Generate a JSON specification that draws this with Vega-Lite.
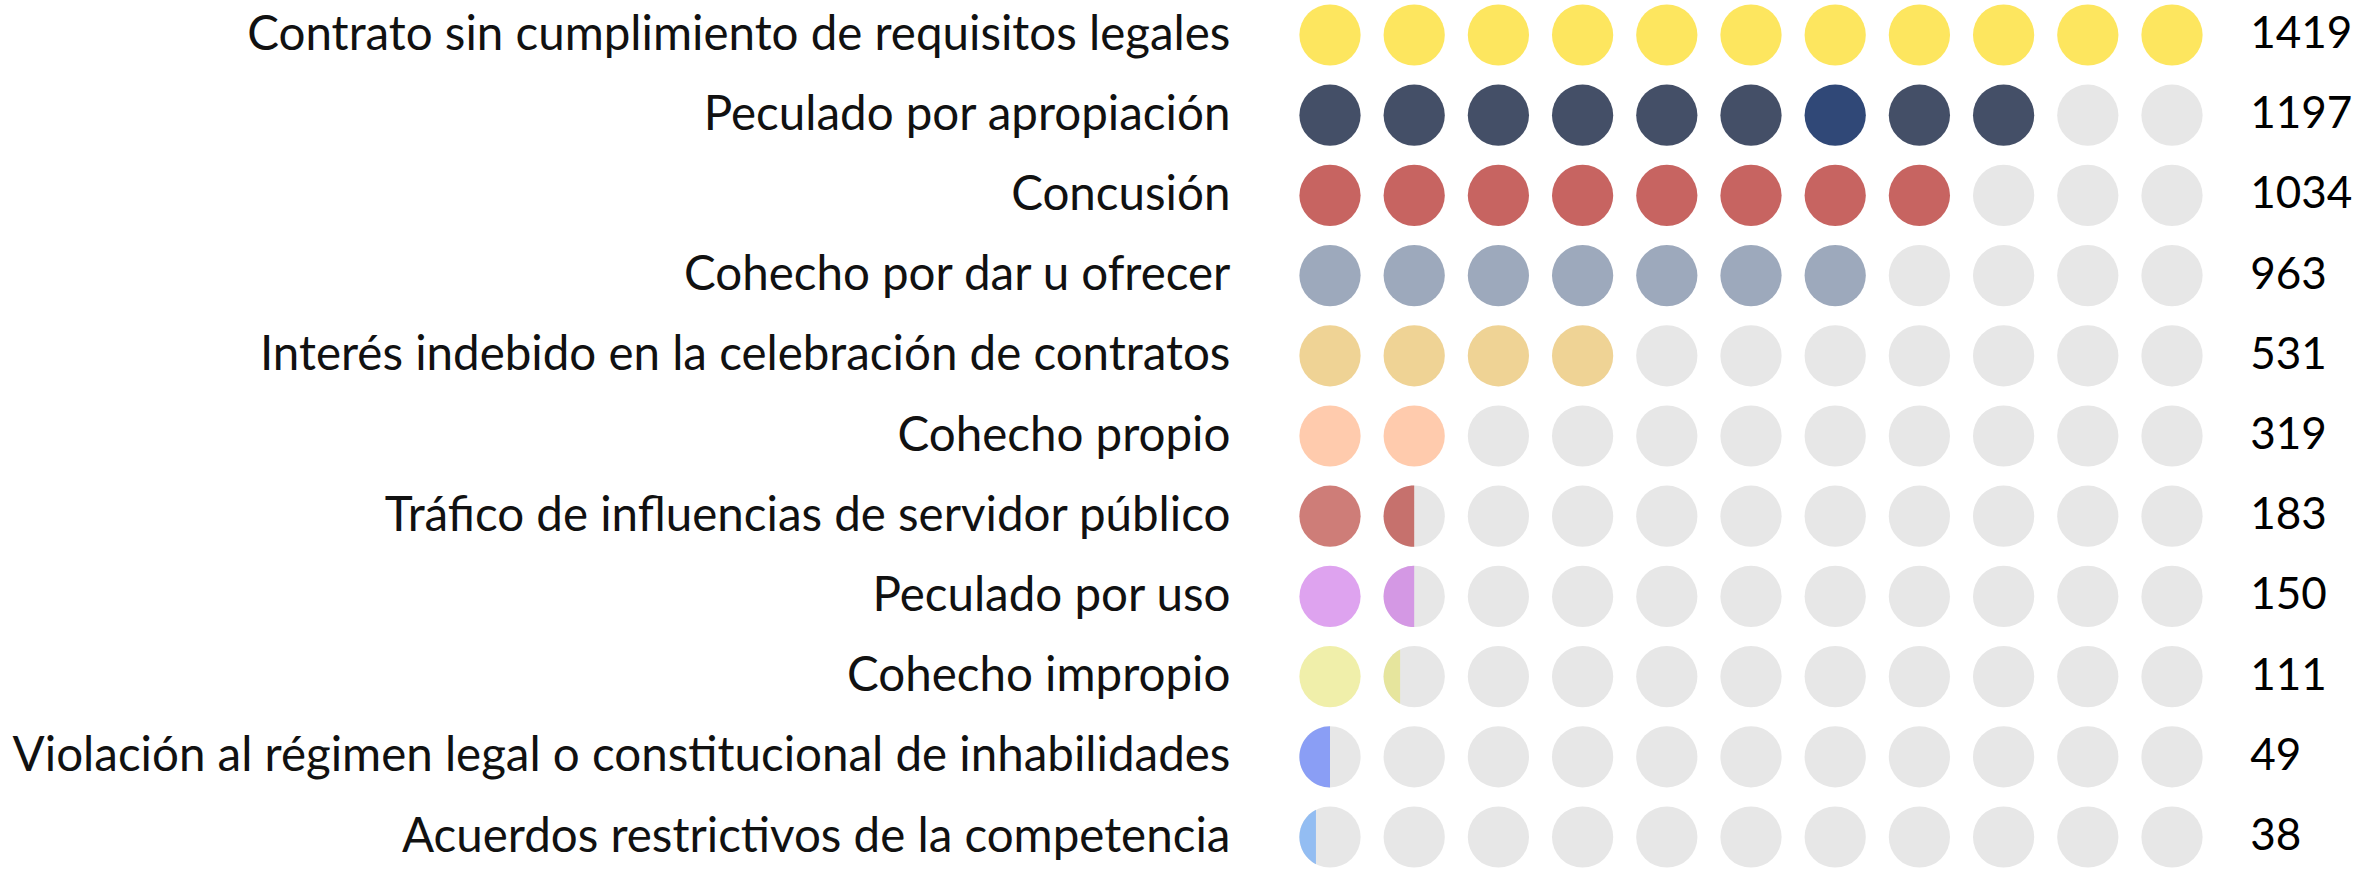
{
  "$schema": "https://vega.github.io/schema/vega-lite/v6.json",
  "autosize": "none",
  "width": 1010.4,
  "height": 802,
  "padding": {"left": 1287.9, "top": 35, "right": 63.7, "bottom": 39},
  "background": "#ffffff",
  "config": {"view": {"stroke": null}},
  "datasets": {
    "rows": [
      {"c": "Contrato sin cumplimiento de requisitos legales", "n": 1419},
      {"c": "Peculado por apropiación", "n": 1197},
      {"c": "Concusión", "n": 1034},
      {"c": "Cohecho por dar u ofrecer", "n": 963},
      {"c": "Interés indebido en la celebración de contratos", "n": 531},
      {"c": "Cohecho propio", "n": 319},
      {"c": "Tráfico de influencias de servidor público", "n": 183},
      {"c": "Peculado por uso", "n": 150},
      {"c": "Cohecho impropio", "n": 111},
      {"c": "Violación al régimen legal o constitucional de inhabilidades", "n": 49},
      {"c": "Acuerdos restrictivos de la competencia", "n": 38}
    ],
    "circles": [
      {"c": "Contrato sin cumplimiento de requisitos legales", "i": 1, "p": "full", "t": "t1"},
      {"c": "Contrato sin cumplimiento de requisitos legales", "i": 2, "p": "full", "t": "t1"},
      {"c": "Contrato sin cumplimiento de requisitos legales", "i": 3, "p": "full", "t": "t1"},
      {"c": "Contrato sin cumplimiento de requisitos legales", "i": 4, "p": "full", "t": "t1"},
      {"c": "Contrato sin cumplimiento de requisitos legales", "i": 5, "p": "full", "t": "t1"},
      {"c": "Contrato sin cumplimiento de requisitos legales", "i": 6, "p": "full", "t": "t1"},
      {"c": "Contrato sin cumplimiento de requisitos legales", "i": 7, "p": "full", "t": "t1"},
      {"c": "Contrato sin cumplimiento de requisitos legales", "i": 8, "p": "full", "t": "t1"},
      {"c": "Contrato sin cumplimiento de requisitos legales", "i": 9, "p": "full", "t": "t1"},
      {"c": "Contrato sin cumplimiento de requisitos legales", "i": 10, "p": "full", "t": "t1"},
      {"c": "Contrato sin cumplimiento de requisitos legales", "i": 11, "p": "full", "t": "t1"},
      {"c": "Peculado por apropiación", "i": 1, "p": "full", "t": "t2"},
      {"c": "Peculado por apropiación", "i": 2, "p": "full", "t": "t2"},
      {"c": "Peculado por apropiación", "i": 3, "p": "full", "t": "t2"},
      {"c": "Peculado por apropiación", "i": 4, "p": "full", "t": "t2"},
      {"c": "Peculado por apropiación", "i": 5, "p": "full", "t": "t2"},
      {"c": "Peculado por apropiación", "i": 6, "p": "full", "t": "t2"},
      {"c": "Peculado por apropiación", "i": 7, "p": "full", "t": "t2b"},
      {"c": "Peculado por apropiación", "i": 8, "p": "full", "t": "t2"},
      {"c": "Peculado por apropiación", "i": 9, "p": "full", "t": "t2"},
      {"c": "Peculado por apropiación", "i": 10, "p": "none", "t": "e"},
      {"c": "Peculado por apropiación", "i": 11, "p": "none", "t": "e"},
      {"c": "Concusión", "i": 1, "p": "full", "t": "t3"},
      {"c": "Concusión", "i": 2, "p": "full", "t": "t3"},
      {"c": "Concusión", "i": 3, "p": "full", "t": "t3"},
      {"c": "Concusión", "i": 4, "p": "full", "t": "t3"},
      {"c": "Concusión", "i": 5, "p": "full", "t": "t3"},
      {"c": "Concusión", "i": 6, "p": "full", "t": "t3"},
      {"c": "Concusión", "i": 7, "p": "full", "t": "t3"},
      {"c": "Concusión", "i": 8, "p": "full", "t": "t3"},
      {"c": "Concusión", "i": 9, "p": "none", "t": "e"},
      {"c": "Concusión", "i": 10, "p": "none", "t": "e"},
      {"c": "Concusión", "i": 11, "p": "none", "t": "e"},
      {"c": "Cohecho por dar u ofrecer", "i": 1, "p": "full", "t": "t4"},
      {"c": "Cohecho por dar u ofrecer", "i": 2, "p": "full", "t": "t4"},
      {"c": "Cohecho por dar u ofrecer", "i": 3, "p": "full", "t": "t4"},
      {"c": "Cohecho por dar u ofrecer", "i": 4, "p": "full", "t": "t4"},
      {"c": "Cohecho por dar u ofrecer", "i": 5, "p": "full", "t": "t4"},
      {"c": "Cohecho por dar u ofrecer", "i": 6, "p": "full", "t": "t4"},
      {"c": "Cohecho por dar u ofrecer", "i": 7, "p": "full", "t": "t4"},
      {"c": "Cohecho por dar u ofrecer", "i": 8, "p": "none", "t": "e"},
      {"c": "Cohecho por dar u ofrecer", "i": 9, "p": "none", "t": "e"},
      {"c": "Cohecho por dar u ofrecer", "i": 10, "p": "none", "t": "e"},
      {"c": "Cohecho por dar u ofrecer", "i": 11, "p": "none", "t": "e"},
      {"c": "Interés indebido en la celebración de contratos", "i": 1, "p": "full", "t": "t5"},
      {"c": "Interés indebido en la celebración de contratos", "i": 2, "p": "full", "t": "t5"},
      {"c": "Interés indebido en la celebración de contratos", "i": 3, "p": "full", "t": "t5"},
      {"c": "Interés indebido en la celebración de contratos", "i": 4, "p": "full", "t": "t5"},
      {"c": "Interés indebido en la celebración de contratos", "i": 5, "p": "none", "t": "e"},
      {"c": "Interés indebido en la celebración de contratos", "i": 6, "p": "none", "t": "e"},
      {"c": "Interés indebido en la celebración de contratos", "i": 7, "p": "none", "t": "e"},
      {"c": "Interés indebido en la celebración de contratos", "i": 8, "p": "none", "t": "e"},
      {"c": "Interés indebido en la celebración de contratos", "i": 9, "p": "none", "t": "e"},
      {"c": "Interés indebido en la celebración de contratos", "i": 10, "p": "none", "t": "e"},
      {"c": "Interés indebido en la celebración de contratos", "i": 11, "p": "none", "t": "e"},
      {"c": "Cohecho propio", "i": 1, "p": "full", "t": "t6"},
      {"c": "Cohecho propio", "i": 2, "p": "full", "t": "t6"},
      {"c": "Cohecho propio", "i": 3, "p": "none", "t": "e"},
      {"c": "Cohecho propio", "i": 4, "p": "none", "t": "e"},
      {"c": "Cohecho propio", "i": 5, "p": "none", "t": "e"},
      {"c": "Cohecho propio", "i": 6, "p": "none", "t": "e"},
      {"c": "Cohecho propio", "i": 7, "p": "none", "t": "e"},
      {"c": "Cohecho propio", "i": 8, "p": "none", "t": "e"},
      {"c": "Cohecho propio", "i": 9, "p": "none", "t": "e"},
      {"c": "Cohecho propio", "i": 10, "p": "none", "t": "e"},
      {"c": "Cohecho propio", "i": 11, "p": "none", "t": "e"},
      {"c": "Tráfico de influencias de servidor público", "i": 1, "p": "full", "t": "t7"},
      {"c": "Tráfico de influencias de servidor público", "i": 2, "p": "half", "t": "t7b"},
      {"c": "Tráfico de influencias de servidor público", "i": 3, "p": "none", "t": "e"},
      {"c": "Tráfico de influencias de servidor público", "i": 4, "p": "none", "t": "e"},
      {"c": "Tráfico de influencias de servidor público", "i": 5, "p": "none", "t": "e"},
      {"c": "Tráfico de influencias de servidor público", "i": 6, "p": "none", "t": "e"},
      {"c": "Tráfico de influencias de servidor público", "i": 7, "p": "none", "t": "e"},
      {"c": "Tráfico de influencias de servidor público", "i": 8, "p": "none", "t": "e"},
      {"c": "Tráfico de influencias de servidor público", "i": 9, "p": "none", "t": "e"},
      {"c": "Tráfico de influencias de servidor público", "i": 10, "p": "none", "t": "e"},
      {"c": "Tráfico de influencias de servidor público", "i": 11, "p": "none", "t": "e"},
      {"c": "Peculado por uso", "i": 1, "p": "full", "t": "t8"},
      {"c": "Peculado por uso", "i": 2, "p": "half", "t": "t8b"},
      {"c": "Peculado por uso", "i": 3, "p": "none", "t": "e"},
      {"c": "Peculado por uso", "i": 4, "p": "none", "t": "e"},
      {"c": "Peculado por uso", "i": 5, "p": "none", "t": "e"},
      {"c": "Peculado por uso", "i": 6, "p": "none", "t": "e"},
      {"c": "Peculado por uso", "i": 7, "p": "none", "t": "e"},
      {"c": "Peculado por uso", "i": 8, "p": "none", "t": "e"},
      {"c": "Peculado por uso", "i": 9, "p": "none", "t": "e"},
      {"c": "Peculado por uso", "i": 10, "p": "none", "t": "e"},
      {"c": "Peculado por uso", "i": 11, "p": "none", "t": "e"},
      {"c": "Cohecho impropio", "i": 1, "p": "full", "t": "t9"},
      {"c": "Cohecho impropio", "i": 2, "p": "sliver", "t": "t9b"},
      {"c": "Cohecho impropio", "i": 3, "p": "none", "t": "e"},
      {"c": "Cohecho impropio", "i": 4, "p": "none", "t": "e"},
      {"c": "Cohecho impropio", "i": 5, "p": "none", "t": "e"},
      {"c": "Cohecho impropio", "i": 6, "p": "none", "t": "e"},
      {"c": "Cohecho impropio", "i": 7, "p": "none", "t": "e"},
      {"c": "Cohecho impropio", "i": 8, "p": "none", "t": "e"},
      {"c": "Cohecho impropio", "i": 9, "p": "none", "t": "e"},
      {"c": "Cohecho impropio", "i": 10, "p": "none", "t": "e"},
      {"c": "Cohecho impropio", "i": 11, "p": "none", "t": "e"},
      {"c": "Violación al régimen legal o constitucional de inhabilidades", "i": 1, "p": "half", "t": "t10"},
      {"c": "Violación al régimen legal o constitucional de inhabilidades", "i": 2, "p": "none", "t": "e"},
      {"c": "Violación al régimen legal o constitucional de inhabilidades", "i": 3, "p": "none", "t": "e"},
      {"c": "Violación al régimen legal o constitucional de inhabilidades", "i": 4, "p": "none", "t": "e"},
      {"c": "Violación al régimen legal o constitucional de inhabilidades", "i": 5, "p": "none", "t": "e"},
      {"c": "Violación al régimen legal o constitucional de inhabilidades", "i": 6, "p": "none", "t": "e"},
      {"c": "Violación al régimen legal o constitucional de inhabilidades", "i": 7, "p": "none", "t": "e"},
      {"c": "Violación al régimen legal o constitucional de inhabilidades", "i": 8, "p": "none", "t": "e"},
      {"c": "Violación al régimen legal o constitucional de inhabilidades", "i": 9, "p": "none", "t": "e"},
      {"c": "Violación al régimen legal o constitucional de inhabilidades", "i": 10, "p": "none", "t": "e"},
      {"c": "Violación al régimen legal o constitucional de inhabilidades", "i": 11, "p": "none", "t": "e"},
      {"c": "Acuerdos restrictivos de la competencia", "i": 1, "p": "sliver", "t": "t11"},
      {"c": "Acuerdos restrictivos de la competencia", "i": 2, "p": "none", "t": "e"},
      {"c": "Acuerdos restrictivos de la competencia", "i": 3, "p": "none", "t": "e"},
      {"c": "Acuerdos restrictivos de la competencia", "i": 4, "p": "none", "t": "e"},
      {"c": "Acuerdos restrictivos de la competencia", "i": 5, "p": "none", "t": "e"},
      {"c": "Acuerdos restrictivos de la competencia", "i": 6, "p": "none", "t": "e"},
      {"c": "Acuerdos restrictivos de la competencia", "i": 7, "p": "none", "t": "e"},
      {"c": "Acuerdos restrictivos de la competencia", "i": 8, "p": "none", "t": "e"},
      {"c": "Acuerdos restrictivos de la competencia", "i": 9, "p": "none", "t": "e"},
      {"c": "Acuerdos restrictivos de la competencia", "i": 10, "p": "none", "t": "e"},
      {"c": "Acuerdos restrictivos de la competencia", "i": 11, "p": "none", "t": "e"}
    ]
  },
  "layer": [
    {
      "data": {"name": "circles"},
      "transform": [{"filter": "datum.p !== 'full'"}],
      "mark": {"type": "point", "shape": "circle", "filled": true, "opacity": 1, "size": 3750, "strokeWidth": 0, "color": "#e7e7e7"},
      "encoding": {
        "x": {"field": "i", "type": "quantitative", "scale": {"domain": [0.5, 12.5], "nice": false, "zero": false}, "axis": null},
        "y": {
          "field": "c", "type": "nominal",
          "scale": {"type": "point", "padding": 0, "domain": [
            "Contrato sin cumplimiento de requisitos legales",
            "Peculado por apropiación",
            "Concusión",
            "Cohecho por dar u ofrecer",
            "Interés indebido en la celebración de contratos",
            "Cohecho propio",
            "Tráfico de influencias de servidor público",
            "Peculado por uso",
            "Cohecho impropio",
            "Violación al régimen legal o constitucional de inhabilidades",
            "Acuerdos restrictivos de la competencia"
          ]},
          "axis": {"title": null, "domain": false, "ticks": false, "grid": false, "labelPadding": 58, "labelFont": "Lato", "labelFontSize": 47.5, "labelColor": "#111111", "labelLimit": 1400, "labelAlign": "right", "labelBaseline": "middle"}
        }
      }
    },
    {
      "data": {"name": "circles"},
      "transform": [{"filter": "datum.p !== 'none'"}],
      "mark": {"type": "point", "filled": true, "opacity": 1, "size": 3750, "strokeWidth": 0},
      "encoding": {
        "x": {"field": "i", "type": "quantitative"},
        "y": {"field": "c", "type": "nominal"},
        "shape": {"field": "p", "type": "nominal", "legend": null, "scale": {"domain": ["full", "half", "sliver"], "range": ["circle", "M0,-1A1,1,0,0,0,0,1Z", "M-0.46,-0.888A1,1,0,0,0,-0.46,0.888Z"]}},
        "color": {"field": "t", "type": "nominal", "legend": null, "scale": {
          "domain": ["t1", "t2", "t2b", "t3", "t4", "t5", "t6", "t7", "t7b", "t8", "t8b", "t9", "t9b", "t10", "t11"],
          "range": ["#fde65f", "#444f67", "#304877", "#c76461", "#9da9bc", "#efd395", "#ffcbad", "#ce7d78", "#c6716d", "#dea3ef", "#d498e4", "#f0efaa", "#e6e59d", "#8a9ef5", "#93bdf2"]
        }}
      }
    },
    {
      "data": {"name": "rows"},
      "mark": {"type": "text", "align": "left", "baseline": "middle", "font": "Lato", "fontSize": 44, "color": "#000000"},
      "encoding": {
        "x": {"datum": 11.93, "type": "quantitative"},
        "y": {"field": "c", "type": "nominal"},
        "text": {"field": "n", "type": "quantitative", "format": "d"}
      }
    }
  ]
}
